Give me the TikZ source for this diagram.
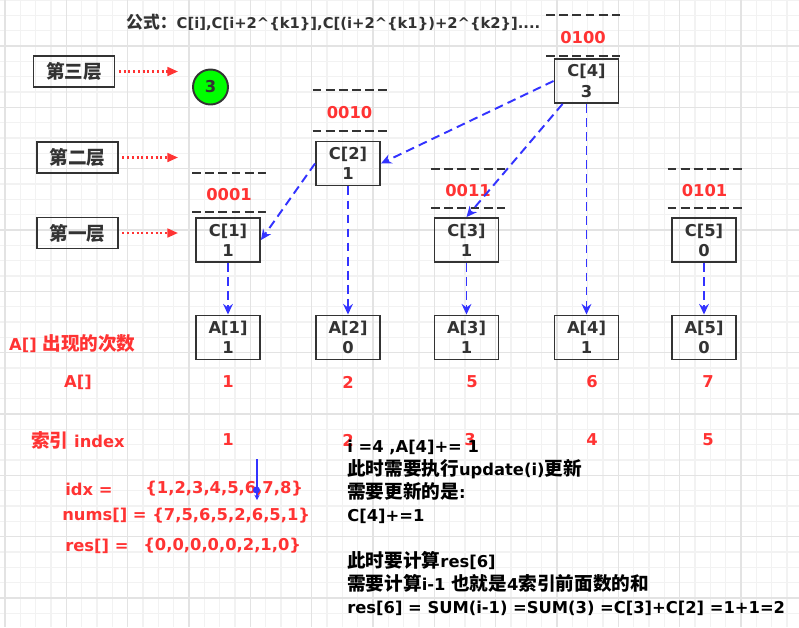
\documentclass[tikz,border=0pt]{standalone}
\usepackage{fontspec}
\setmainfont{DejaVu Sans}
\newfontfamily\cjk{Noto Sans CJK SC}[Scale=1.14]
\usepackage{xcolor}
\usetikzlibrary{arrows.meta, positioning, calc}

\definecolor{redtxt}{HTML}{FF3333}
\definecolor{bluearr}{HTML}{3333FF}
\definecolor{linegray}{HTML}{333333}
\definecolor{greenfill}{HTML}{00FF00}
\definecolor{minorgrid}{HTML}{F2F2F2}
\definecolor{majorgrid}{HTML}{E3E3E3}

\begin{document}
\begin{tikzpicture}[
    x=0.02cm, y=-0.02cm,
    font=\bfseries\fontsize{9.3}{11.5}\selectfont,
    layerbox/.style={draw=linegray, line width=1.1pt, minimum width=1.62cm,
        minimum height=0.62cm, inner sep=0pt, text=linegray},
    cell/.style={draw=linegray, line width=1.1pt, minimum width=1.28cm,
        minimum height=0.88cm, inner sep=0pt, align=center, text=linegray},
    redlabel/.style={text=redtxt},
    bitdash/.style={linegray, line width=1.1pt, dash pattern=on 5.1pt off 2.4pt},
    link/.style={bluearr, line width=1.1pt, dash pattern=on 5pt off 3pt,
        -{Stealth[length=6pt, width=5.5pt]}},
    hint/.style={redtxt, line width=1.2pt, dash pattern=on 1.1pt off 1.6pt,
        shorten <=2pt, -{Triangle[length=6pt, width=5pt]}}
]
\useasboundingbox (0,0) rectangle (799,627);
\fill[white] (0,0) rectangle (799,627);

% grid
\begin{scope}
\clip (0,0) rectangle (799,627);
\foreach \i in {0,...,52} \draw[minorgrid, line width=0.6pt] ({5+15.333*\i},0) -- ({5+15.333*\i},627);
\foreach \j in {0,...,41} \draw[minorgrid, line width=0.6pt] (0,{15.333*\j}) -- (799,{15.333*\j});
\foreach \i in {0,...,13} \draw[majorgrid, line width=0.6pt] ({5+61.333*\i},0) -- ({5+61.333*\i},627);
\foreach \j in {0,...,10} \draw[majorgrid, line width=0.6pt] (0,{-15.333+61.333*\j}) -- (799,{-15.333+61.333*\j});
\end{scope}

\node[anchor=west, text=linegray, font=\bfseries\fontsize{8.4}{10}\selectfont] (title) at (120,22)
    {{\cjk 公式：}C[i],C[i+2\textasciicircum\{k1\}],C[(i+2\textasciicircum\{k1\})+2\textasciicircum\{k2\}]....};

% layers
\node[layerbox] (l3) at (74,71.5) {\cjk 第三层};
\node[layerbox] (l2) at (77.5,157.5) {\cjk 第二层};
\node[layerbox] (l1) at (77.5,233) {\cjk 第一层};
\coordinate (t3) at (178,71.5);
\coordinate (t2) at (178,157.5);
\coordinate (t1) at (178,233);
\draw[hint] (l3.east) -- (t3);
\draw[hint] (l2.east) -- (t2);
\draw[hint] (l1.east) -- (t1);

\node[circle, draw=linegray, fill=greenfill, line width=1.1pt, minimum size=0.7cm,
    inner sep=0pt, text=linegray] (lvl) at (210.5,87) {3};

% binary labels
\foreach \cx/\ty/\by/\bv in {229/173/212/0001, 349.5/90/131/0010, 468/169/208/0011,
    583/15/56/0100, 704.5/169/208/0101} {
  \draw[bitdash] (\cx-37,\ty) -- (\cx+37,\ty);
  \node[redlabel] (bits\bv) at (\cx,{(\ty+\by)/2+2}) {\bv};
  \draw[bitdash] (\cx-37,\by) -- (\cx+37,\by);
}

% tree array
\node[cell] (c1) at (228,240) {C[1]\\1};
\node[cell] (c2) at (348,163.5) {C[2]\\1};
\node[cell] (c3) at (466.5,240) {C[3]\\1};
\node[cell] (c4) at (586.5,81) {C[4]\\3};
\node[cell] (c5) at (704,240) {C[5]\\0};

\node[cell] (a1) at (228,337.5) {A[1]\\1};
\node[cell] (a2) at (348,337.5) {A[2]\\0};
\node[cell] (a3) at (466.5,337.5) {A[3]\\1};
\node[cell] (a4) at (586.5,337.5) {A[4]\\1};
\node[cell] (a5) at (704,337.5) {A[5]\\0};

\foreach \k in {1,...,5} \draw[link] (c\k) -- (a\k);
\draw[link] (c4.west) -- (c2.east);
\draw[link] ([xshift=0.18cm]c4.south west) -- (c3.north);
\draw[link] (c2.west) -- (c1.east);

% rows
\node[redlabel, anchor=west] (cntlabel) at (3,344) {A[] {\cjk 出现的次数}};
\node[redlabel] (alabel) at (78,382) {A[]};
\node[redlabel] (ilabel) at (78,440) {{\cjk 索引} index};
\foreach \x/\v [count=\k] in {228/1, 348/2, 472/5, 592/6, 708/7}
  \node[redlabel] (cnt\k) at (\x,382) {\v};
\foreach \x/\v [count=\k] in {228/1, 348/2, 470/3, 592/4, 708/5}
  \node[redlabel] (idx\k) at (\x,440) {\v};

\node[redlabel, anchor=west, inner sep=0pt] (idxname) at (65,489) {idx =};
\node[redlabel, anchor=west, inner sep=0pt] (idxval) at (145,489) {\{1,2,3,4,5,6,7,8\}};
\node[redlabel, anchor=west, inner sep=0pt] (nums) at (62,516) {nums[] = \{7,5,6,5,2,6,5,1\}};
\node[redlabel, anchor=west, inner sep=0pt] (resname) at (65,546) {res[] =};
\node[redlabel, anchor=west, inner sep=0pt] (resval) at (143,546) {\{0,0,0,0,0,2,1,0\}};

\coordinate (ptop) at (257,459);
\coordinate (pbot) at (257,500);
\draw[bluearr, line width=0.8pt, -{Stealth[length=3pt, width=3pt]}] (ptop) -- (pbot);
\node[circle, fill=bluearr, inner sep=0pt, minimum size=4pt] (pdot) at (256.5,490) {};

\node[anchor=north west, inner sep=0pt, align=left, text=black,
    font=\bfseries\fontsize{9.3}{13.1}\selectfont] (note) at (347,440)
    {i =4 ,A[4]+= 1\\
     {\cjk 此时需要执行}update(i){\cjk 更新}\\
     {\cjk 需要更新的是}:\\
     C[4]+=1\\[13.1pt]
     {\cjk 此时要计算}res[6]\\
     {\cjk 需要计算}i-1 {\cjk 也就是}4{\cjk 索引前面数的和}\\
     res[6] = SUM(i-1) =SUM(3) =C[3]+C[2] =1+1=2};
\end{tikzpicture}
\end{document}
